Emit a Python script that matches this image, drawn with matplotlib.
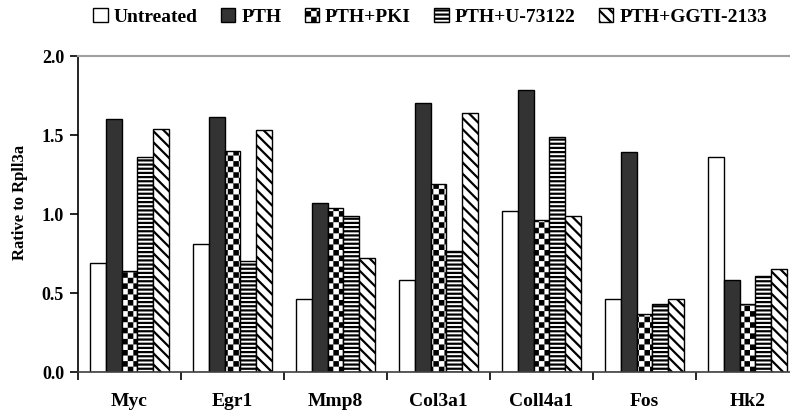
import warnings
import numpy as np
import matplotlib
matplotlib.use("Agg")
import matplotlib.pyplot as plt
import matplotlib.hatch as mhatch
from matplotlib.path import Path
from matplotlib.patches import Patch

warnings.simplefilter("ignore")

genes = ["Myc", "Egr1", "Mmp8", "Col3a1", "Coll4a1", "Fos", "Hk2"]
groups = ["Untreated", "PTH", "PTH+PKI", "PTH+U-73122", "PTH+GGTI-2133"]

untreated = [0.69, 0.81, 0.46, 0.58, 1.02, 0.46, 1.36]
pth = [1.60, 1.615, 1.07, 1.705, 1.785, 1.39, 0.585]
pth_pki = [0.64, 1.40, 1.04, 1.19, 0.96, 0.37, 0.43]
pth_u73122 = [1.36, 0.70, 0.99, 0.765, 1.49, 0.43, 0.61]
pth_ggti = [1.54, 1.53, 0.72, 1.64, 0.985, 0.465, 0.65]

HATCH_LW = 1.6


class CheckerHatch(mhatch.HatchPatternBase):
    # filled squares on a checkerboard, one 'c' = 6 cells per inch
    def __init__(self, hatch, density):
        self.n = hatch.count('c') * density
        if self.n % 2:
            self.n += 1
        self.num_vertices = (self.n * self.n // 2) * 5

    def set_vertices_and_codes(self, vertices, codes):
        s = 1.0 / self.n
        # pull the squares in so the hatch stroke doesn't swell them
        d = HATCH_LW / 72.0 / 2
        sq = np.array([[d, d], [s - d, d], [s - d, s - d], [d, s - d], [d, d]])
        k = 0
        for i in range(self.n):
            for j in range(self.n):
                if (i + j) % 2 == 0:
                    vertices[k:k + 5] = sq + [i * s, j * s]
                    codes[k:k + 5] = [Path.MOVETO, Path.LINETO, Path.LINETO,
                                      Path.LINETO, Path.CLOSEPOLY]
                    k += 5


mhatch._hatch_types.append(CheckerHatch)

plt.rcParams['font.family'] = ['Liberation Serif', 'DejaVu Serif']
plt.rcParams['font.weight'] = 'bold'
plt.rcParams['hatch.linewidth'] = HATCH_LW
plt.rcParams['hatch.color'] = 'black'

styles = [
    dict(facecolor='white', hatch=None),
    dict(facecolor='#333333', hatch=None),
    dict(facecolor='white', hatch='ccc'),
    dict(facecolor='white', hatch='----'),
    dict(facecolor='white', hatch='\\\\\\'),
]

fig = plt.figure(figsize=(7.9, 4.15), dpi=100)
ax = fig.add_axes([78 / 790, 43 / 415, 721 / 790, 316 / 415])

x = np.arange(len(genes))
w = 0.155
series = [untreated, pth, pth_pki, pth_u73122, pth_ggti]
for i, vals in enumerate(series):
    ax.bar(x + (i - 2) * w, vals, w, edgecolor='black', linewidth=1.0,
           **styles[i])

ax.set_xlim(-0.5, 6.5)
ax.set_ylim(0, 2.0)
ax.set_yticks(np.arange(0, 2.01, 0.5))
ax.set_yticklabels(["%.1f" % v for v in np.arange(0, 2.01, 0.5)], fontsize=13)
ax.set_xticks(x)
ax.set_xticklabels(genes, fontsize=14)
ax.set_xticks(np.arange(-0.5, 6.6, 1), minor=True)
ax.tick_params(axis='x', which='major', length=0, pad=15)
ax.tick_params(axis='x', which='minor', length=6, width=1.2, direction='out')
ax.tick_params(axis='y', length=6, width=1.2, direction='out', pad=4)

ax.spines['right'].set_visible(False)
ax.spines['top'].set_color('#a0a0a0')
ax.spines['top'].set_linewidth(1.5)
ax.spines['left'].set_linewidth(1.2)
ax.spines['bottom'].set_color('#404040')
ax.spines['bottom'].set_linewidth(1.2)

fig.text(20 / 790, 1 - 202 / 415, "Rative to Rpll3a", rotation=90,
         ha='center', va='center', fontsize=12)

handles = [Patch(edgecolor='black', linewidth=1.0, label=g, **styles[i])
           for i, g in enumerate(groups)]
fig.legend(handles=handles, loc='center', ncol=5,
           bbox_to_anchor=(430 / 790, 1 - 17 / 415), frameon=False,
           fontsize=14, handlelength=0.75, handleheight=0.75,
           handletextpad=0.3, columnspacing=1.2, borderaxespad=0)

fig.savefig("out.png", dpi=100)
